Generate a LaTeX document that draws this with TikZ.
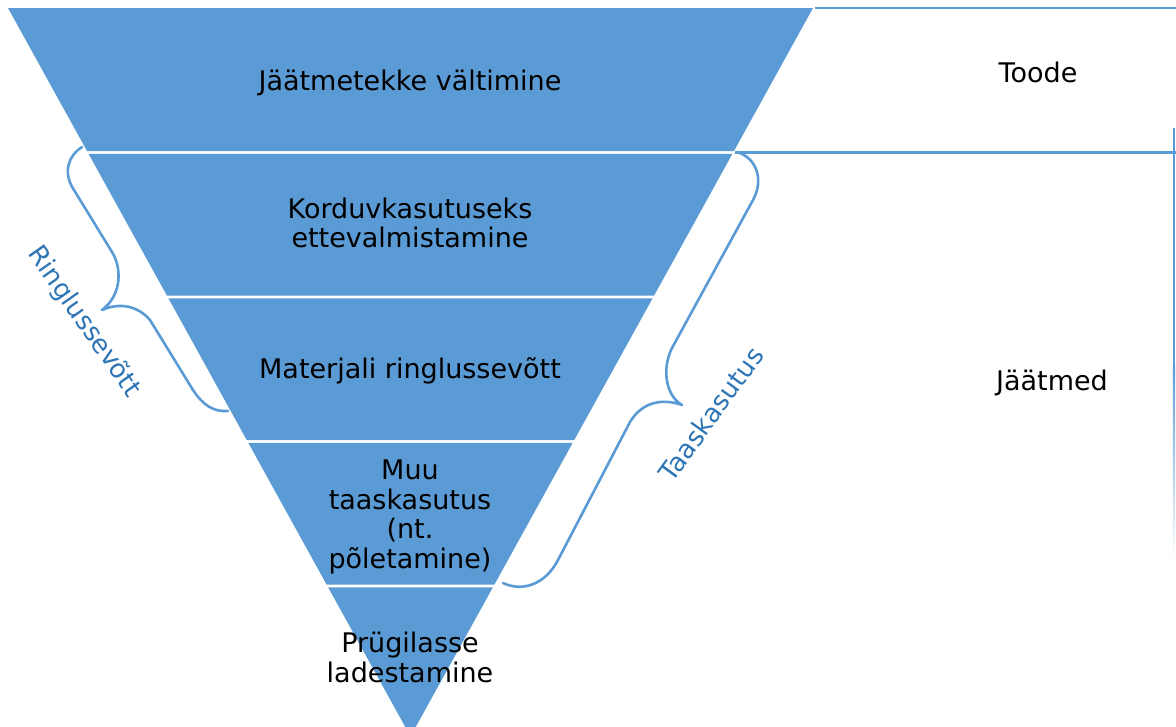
\documentclass[tikz,border=0pt]{standalone}
\usepackage{fontspec}
\setmainfont{DejaVu Sans}
\definecolor{pyr}{RGB}{91,155,213}
\definecolor{rimblue}{RGB}{91,155,213}
\definecolor{labelblue}{RGB}{46,117,182}
\begin{document}
\begin{tikzpicture}[x=1pt,y=-1pt,
  declare function={hw(\u)=402.5-0.5526*(\u-8);},
  band/.style={fill=pyr, draw=none},
  rim/.style={draw=rimblue, line width=2.4pt},
  bracket/.style={draw=rimblue, line width=2.6pt, line join=round, line cap=round},
  lvl/.style={font=\fontsize{27}{29.5}\selectfont, align=center, text=black, inner sep=0pt},
  side/.style={font=\fontsize{26}{29}\selectfont, text=labelblue, inner sep=0pt},
  zone/.style={font=\fontsize{27}{29.5}\selectfont, text=black, inner sep=0pt},
]
\useasboundingbox (0,0) rectangle (1176,726);
\clip (0,0) rectangle (1176,726);

% inverted pyramid, five bands separated by thin white gaps
\foreach \t/\b/\n in {8/151.2/b1, 153.8/295.7/b2, 298.3/440.2/b3, 442.8/584.7/b4, 587.3/736/b5}{
  \fill[band] ({410.5-hw(\t)},\t) coordinate (\n tl) -- ({410.5+hw(\t)},\t) coordinate (\n tr)
    -- ({410.5+hw(\b)},\b) coordinate (\n br) -- ({410.5-hw(\b)},\b) coordinate (\n bl) -- cycle;
}

% level texts
\node[lvl, anchor=base] (t1) at (410,90) {Jäätmetekke vältimine};
\node[lvl] (t2) at (410,223) {Korduvkasutuseks\\ettevalmistamine};
\node[lvl, anchor=base] (t3) at (410,378) {Materjali ringlussevõtt};
\node[lvl] (t4) at (410,517) {Muu\\taaskasutus\\(nt.\\põletamine)};
\node[lvl] (t5) at (410,657.5) {Prügilasse\\ladestamine};

% right-hand zones
\coordinate (topL) at (815,8);
\coordinate (topR) at (1176,8);
\coordinate (midR) at (1176,152.5);
\coordinate (railTop) at (1174,128);
\coordinate (railMid) at (1174,365);
\draw[rim] (topL) -- (topR);
\draw[rim] (b1br) ++(1,1.3) -- (midR);
\draw[rim] (railTop) -- (railMid);
\shade[top color=rimblue, bottom color=white] (1172.8,364.5) rectangle (1175.2,560);
\node[zone, anchor=base] (toode) at (1038,82) {Toode};
\node[zone, anchor=base] (jaatmed) at (1052,390) {Jäätmed};

% left bracket: recycling
\draw[bracket] (82,147) .. controls (69,155) and (62,172) .. (74,190) -- (112,252)
  .. controls (122,268) and (122,295) .. (102,310)
  .. controls (120,302) and (138,306) .. (150,320) -- (193,390)
  .. controls (203,405) and (213,412) .. (228,411);
\node[side, rotate=-55] (ring) at (84,322) {Ringlussevõtt};

% right bracket: recovery
\draw[bracket] (737,152) .. controls (757,158) and (764,180) .. (753,200) -- (672,348)
  .. controls (662,368) and (665,395) .. (682,405)
  .. controls (662,398) and (642,402) .. (630,422) -- (558,560)
  .. controls (545,585) and (522,592) .. (503,583);
\node[side, rotate=54] (taas) at (711,414) {Taaskasutus};
\end{tikzpicture}
\end{document}
